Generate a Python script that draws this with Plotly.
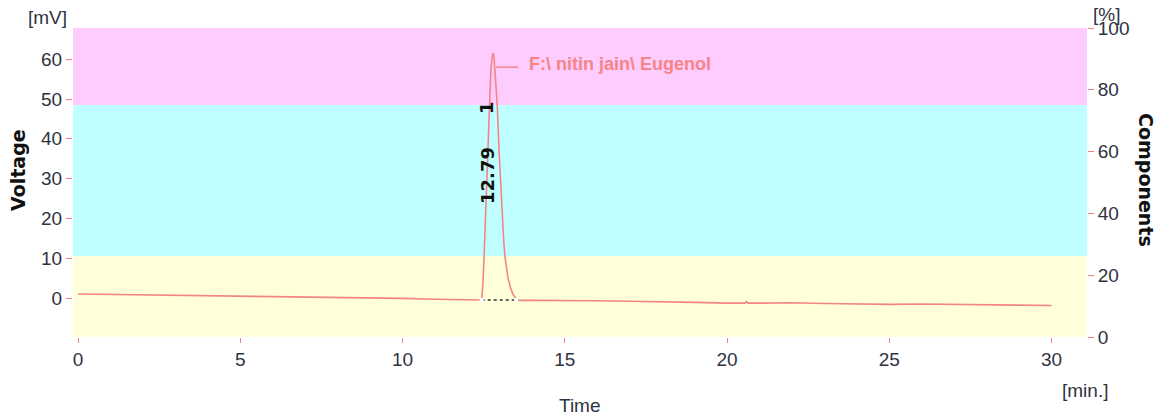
import plotly.graph_objects as go

# ---- data ----
time_min = [0, 1, 2, 3, 4, 5, 6, 7, 8, 9, 10, 11, 12, 12.4,
            12.44, 12.48, 12.51, 12.56, 12.62, 12.67, 12.72, 12.76, 12.79,
            12.82, 12.86, 12.92, 12.98, 13.05, 13.12, 13.16, 13.25, 13.33,
            13.40, 13.48, 13.55, 14, 15, 16, 17, 18, 19, 20, 20.55, 20.6,
            20.65, 21, 22, 23, 24, 25, 26, 27, 28, 29, 30]
voltage_mv = [1.0, 0.9, 0.8, 0.6, 0.5, 0.4, 0.4, 0.2, 0.1, 0.0, -0.1, -0.3, -0.4, -0.5,
              -0.3, 4, 10, 22, 38, 49, 57, 60.5, 61.5,
              60.5, 56, 48, 36, 24, 14, 10, 5, 2.5,
              1, 0, -0.6, -0.6, -0.6, -0.7, -0.8, -0.9, -1.1, -1.3, -1.3, -0.9,
              -1.3, -1.3, -1.2, -1.4, -1.5, -1.6, -1.5, -1.6, -1.7, -1.8, -1.9]

peak_time = 12.79
peak_number = "1"
peak_start, peak_end, peak_base = 12.44, 13.50, -0.5
sample_name = "F:\\ nitin jain\\ Eugenol"

x_ticks = [0, 5, 10, 15, 20, 25, 30]
y_ticks = [0, 10, 20, 30, 40, 50, 60]
y2_ticks = [0, 20, 40, 60, 80, 100]

# background band limits (mV)
band_low, band_mid, band_high = 10.55, 48.5, 67.84
y_min = -9.8

LINE = "#F58585"
TICKC = "#F08080"
SANS = "Liberation Sans, Arial, sans-serif"
TXT = "#2f3340"

fig = go.Figure()

fig.add_trace(go.Scatter(x=time_min, y=voltage_mv, mode="lines",
                         line=dict(color=LINE, width=1.6), showlegend=False,
                         hoverinfo="skip"))
fig.add_trace(go.Scatter(x=[peak_start, peak_end], y=[peak_base, peak_base], mode="lines+markers",
                         line=dict(color="#333333", width=1.6, dash="dot"),
                         marker=dict(color="white", size=4, symbol="square"),
                         showlegend=False, hoverinfo="skip"))
# invisible trace for right axis
fig.add_trace(go.Scatter(x=[None], y=[None], yaxis="y2", showlegend=False))

shapes = [
    dict(type="rect", xref="paper", yref="y", x0=0, x1=1, y0=y_min, y1=band_low,
         fillcolor="#FFFFD9", line=dict(width=0), layer="below"),
    dict(type="rect", xref="paper", yref="y", x0=0, x1=1, y0=band_low, y1=band_mid,
         fillcolor="#C0FFFF", line=dict(width=0), layer="below"),
    dict(type="rect", xref="paper", yref="y", x0=0, x1=1, y0=band_mid, y1=band_high,
         fillcolor="#FFCCFF", line=dict(width=0), layer="below"),
    # leader line from the peak to the sample label
    dict(type="line", xref="x", yref="y", x0=peak_time + 0.09, x1=peak_time + 0.77,
         y0=58, y1=58, line=dict(color=LINE, width=1.5)),
]

annotations = [
    dict(text=sample_name, x=peak_time + 1.03, y=58.8, xref="x", yref="y",
         xanchor="left", yanchor="middle", showarrow=False,
         font=dict(family=SANS, size=18, color="#F58585", weight="bold")),
    dict(text=f"{peak_time:.2f}", x=peak_time - 0.19, y=30.9, xref="x", yref="y",
         textangle=-90, showarrow=False, xanchor="center", yanchor="middle",
         font=dict(family="DejaVu Sans", size=18, color="#111111", weight="bold")),
    dict(text=peak_number, x=peak_time - 0.19, y=48, xref="x", yref="y",
         textangle=-90, showarrow=False, xanchor="center", yanchor="middle",
         font=dict(family="DejaVu Sans", size=18, color="#111111", weight="bold")),
    dict(text="Voltage", x=18, y=170, showarrow=False,
         textangle=-90, font=dict(family="DejaVu Sans", size=19, color="#111111", weight="bold")),
    dict(text="Components", x=1146, y=180, showarrow=False,
         textangle=90, font=dict(family="DejaVu Sans", size=19, color="#111111", weight="bold")),
    dict(text="Time", x=580, y=405, showarrow=False,
         font=dict(family=SANS, size=19, color=TXT)),
    dict(text="[min.]", x=1085, y=390, showarrow=False,
         font=dict(family=SANS, size=19, color=TXT)),
    dict(text="[mV]", x=47, y=18, showarrow=False,
         font=dict(family=SANS, size=19, color=TXT)),
    dict(text="[%]", x=1106, y=14, showarrow=False,
         font=dict(family=SANS, size=19, color=TXT)),
]
# convert pixel-positioned annotations to paper coords
W, H = 1159, 419
L, R, T, B = 73, 72, 28, 82
pw, ph = W - L - R, H - T - B
for a in annotations:
    if "xref" not in a:
        a["xref"] = "paper"; a["yref"] = "paper"
        a["xanchor"] = "center"; a["yanchor"] = "middle"
        a["x"] = (a["x"] - L) / pw
        a["y"] = 1 - (a["y"] - T) / ph

fig.update_layout(
    width=W, height=H,
    margin=dict(l=L, r=R, t=T, b=B),
    paper_bgcolor="white", plot_bgcolor="white",
    shapes=shapes, annotations=annotations,
    xaxis=dict(range=[-0.154, 31.09], tickvals=x_ticks, showgrid=False, zeroline=False,
               showline=False, ticks="outside", ticklen=5, tickcolor=TICKC,
               tickfont=dict(family=SANS, size=19, color=TXT)),
    yaxis=dict(range=[y_min, band_high], tickvals=y_ticks, showgrid=False, zeroline=False,
               showline=False, ticks="outside", ticklen=6, tickcolor=TICKC,
               tickfont=dict(family=SANS, size=19, color=TXT)),
    yaxis2=dict(range=[0, 100], tickvals=y2_ticks, overlaying="y", side="right",
                showgrid=False, zeroline=False, showline=False, ticks="outside",
                ticklen=6, tickcolor=TICKC,
                tickfont=dict(family=SANS, size=19, color=TXT)),
)

fig.write_html("out.html")
